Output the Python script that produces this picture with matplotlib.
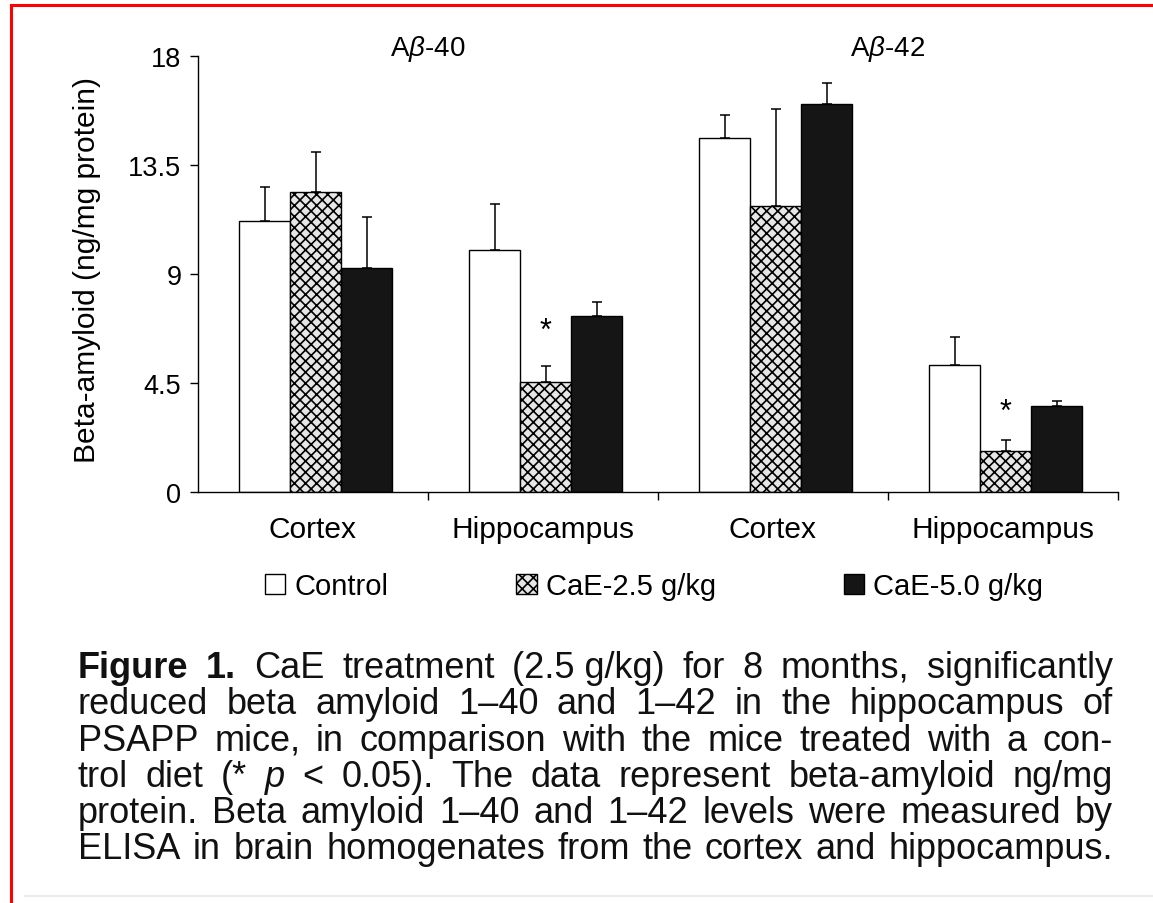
import matplotlib
matplotlib.use('Agg')
import numpy as np
import matplotlib.pyplot as plt
from matplotlib.lines import Line2D

plt.rcParams['font.family'] = ['Liberation Sans', 'DejaVu Sans']
plt.rcParams['mathtext.fontset'] = 'custom'
plt.rcParams['mathtext.rm'] = 'Liberation Sans'
plt.rcParams['mathtext.it'] = 'Liberation Sans:italic'
plt.rcParams['hatch.linewidth'] = 1.2
plt.rcParams['hatch.color'] = '#6a6a6a'

# data (ng/mg protein)
regions = ['Cortex', 'Hippocampus', 'Cortex', 'Hippocampus']
peptides = ['A$\\beta$-40', 'A$\\beta$-42']
groups = ['Control', 'CaE-2.5 g/kg', 'CaE-5.0 g/kg']
control = [11.2, 10.0, 14.6, 5.25]
control_err = [1.4, 1.9, 0.95, 1.15]
cae25 = [12.4, 4.55, 11.8, 1.7]
cae25_err = [1.65, 0.65, 4.0, 0.45]
cae50 = [9.25, 7.25, 16.0, 3.55]
cae50_err = [2.1, 0.6, 0.9, 0.2]
# significant (p < 0.05) bars: region index and height of the star
star_idx = [1, 3]
star_y = [6.65, 3.3]

caption = [
    ['**Figure', '**1.', 'CaE', 'treatment', '(2.5 g/kg)', 'for', '8', 'months,', 'significantly'],
    ['reduced', 'beta', 'amyloid', '1\u201340', 'and', '1\u201342', 'in', 'the', 'hippocampus', 'of'],
    ['PSAPP', 'mice,', 'in', 'comparison', 'with', 'the', 'mice', 'treated', 'with', 'a', 'con-'],
    ['trol', 'diet', '(*', '_p', '<', '0.05).', 'The', 'data', 'represent', 'beta-amyloid', 'ng/mg'],
    ['protein.', 'Beta', 'amyloid', '1\u201340', 'and', '1\u201342', 'levels', 'were', 'measured', 'by'],
    ['ELISA', 'in', 'brain', 'homogenates', 'from', 'the', 'cortex', 'and', 'hippocampus.'],
]

W, H = 1153, 904
fig = plt.figure(figsize=(W / 100, H / 100), dpi=100)
ax = fig.add_axes([198 / W, 1 - 492.7 / H, 920 / W, 435.7 / H])

x = np.arange(len(regions))
bw = 0.222
series = [(control, control_err, dict(color='white', hatch=None)),
          (cae25, cae25_err, dict(color='#e6e6e6', hatch='xxx')),
          (cae50, cae50_err, dict(color='#151515', hatch=None))]
for i, (vals, errs, st) in enumerate(series):
    pos = x + (i - 1) * bw + 0.012
    ax.bar(pos, vals, bw, color=st['color'], edgecolor='black', linewidth=1.0,
           hatch=st['hatch'], label=groups[i], zorder=2)
    ax.errorbar(pos, vals, yerr=[np.zeros(len(vals)), errs], fmt='none',
                ecolor='black', elinewidth=1.1, capsize=3.5, capthick=1.1, zorder=1)

for i, y in zip(star_idx, star_y):
    ax.text(x[i] + 0.012, y, '*', ha='center', va='center', fontsize=22)

for j, t in enumerate(peptides):
    ax.text(2 * j + 0.5, 18.05, t, ha='center', va='baseline', fontsize=20)

ax.set_xlim(-0.5, len(regions) - 0.5)
ax.set_ylim(0, 18)
ax.set_yticks([0, 4.5, 9, 13.5, 18])
ax.set_yticklabels(['0', '4.5', '9', '13.5', '18'])
ax.set_xticks(x)
ax.set_xticklabels(regions)
ax.set_xticks(x + 0.5, minor=True)
ax.tick_params(axis='x', which='major', length=0, pad=17, labelsize=21.5)
ax.tick_params(axis='x', which='minor', length=6, width=1.0, direction='out')
ax.tick_params(axis='y', length=6, width=1.0, direction='out', pad=6, labelsize=19.5)
for s in ['top', 'right']:
    ax.spines[s].set_visible(False)
for s in ['left', 'bottom']:
    ax.spines[s].set_linewidth(1.0)

fig.text(87 / W, 1 - 270 / H, 'Beta-amyloid (ng/mg protein)', rotation=90,
         ha='center', va='center', fontsize=21.5)

fig.legend(loc='center', bbox_to_anchor=(654 / W, 1 - 587 / H), ncol=3, frameon=False,
           fontsize=21, handlelength=0.7, handleheight=0.7, handletextpad=0.3,
           columnspacing=4.4, borderaxespad=0)

# justified caption
renderer = fig.canvas.get_renderer()
x0, x1 = 78, 1113
base0, step = 678, 36.3
for li, words in enumerate(caption):
    texts = []
    for w in words:
        kw = dict(fontsize=26)
        if w.startswith('**'):
            w = w[2:]
            kw['fontweight'] = 'bold'
        elif w.startswith('_'):
            w = w[1:]
            kw['fontstyle'] = 'italic'
        t = fig.text(0, 1 - (base0 + li * step) / H, w, ha='left', va='baseline',
                     color='#111111', **kw)
        texts.append(t)
    widths = [t.get_window_extent(renderer).width for t in texts]
    gap = (x1 - x0 - sum(widths)) / (len(texts) - 1)
    cur = x0
    for t, wd in zip(texts, widths):
        t.set_x(cur / W)
        cur += wd + gap

# scan frame
fig.add_artist(Line2D([11 / W, 11 / W], [0, 1 - 6 / H], color='red', lw=2.2))
fig.add_artist(Line2D([11 / W, 1], [1 - 6 / H, 1 - 6 / H], color='red', lw=2.2))
fig.add_artist(Line2D([25 / W, 1], [1 - 897 / H, 1 - 897 / H], color='#ececec', lw=1.5))

fig.savefig('out.png', dpi=100)
